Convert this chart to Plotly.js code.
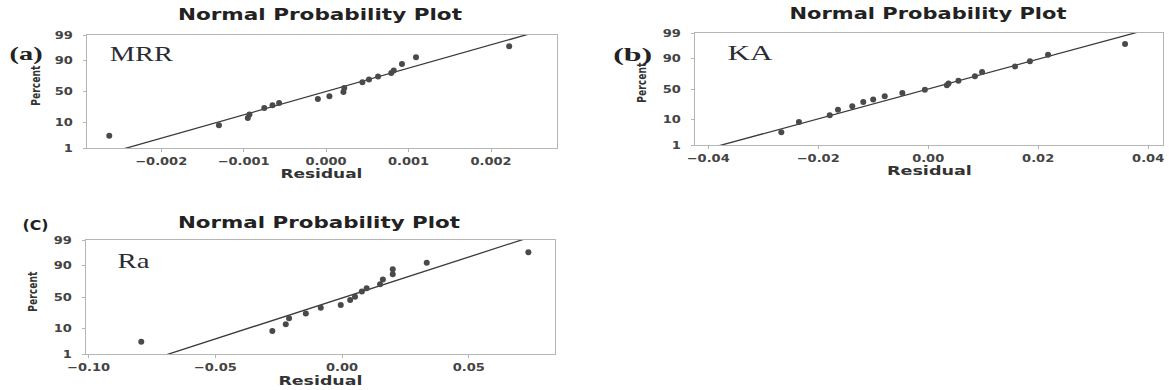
<!DOCTYPE html>
<html><head><meta charset="utf-8">
<script src="https://cdn.plot.ly/plotly-3.0.1.min.js"></script>
<style>html,body{margin:0;padding:0;background:#fff}#chart{width:1169px;height:390px}</style>
</head><body><div id="chart"></div>
<script>
// ---- data ----
const mrrResidual = [-0.00263, -0.0013, -0.00095, -0.00093, -0.00075, -0.00065, -0.00057, -0.0001, 0.00004, 0.00021, 0.00022, 0.00044, 0.00052, 0.00063, 0.00079, 0.00082, 0.00092, 0.00109, 0.00222];
const mrrPercent  = [3.4, 8.2, 13.8, 17.1, 24.8, 28.4, 31.9, 37.8, 42.1, 49.2, 55.6, 64.8, 68.8, 73.2, 77.6, 80.5, 87.1, 92.1, 96.9];
const kaResidual  = [-0.0267, -0.0235, -0.0179, -0.0164, -0.0138, -0.0118, -0.0100, -0.0079, -0.0047, -0.0006, 0.0034, 0.0037, 0.0055, 0.0085, 0.0098, 0.0158, 0.0185, 0.0218, 0.0358];
const kaPercent   = [3.6, 8.5, 13.8, 19.5, 23.6, 29.5, 33.0, 38.2, 43.2, 48.8, 56.0, 59.0, 63.3, 70.2, 76.1, 82.6, 87.5, 92.2, 96.9];
const raResidual  = [-0.0792, -0.0275, -0.0222, -0.0209, -0.0143, -0.0084, -0.0005, 0.0032, 0.0051, 0.0078, 0.0097, 0.0150, 0.0161, 0.0200, 0.0200, 0.0334, 0.0735];
const raPercent   = [3.4, 8.2, 13.4, 19.2, 25.1, 33.0, 37.1, 45.2, 50.4, 58.7, 64.1, 69.8, 76.4, 82.4, 87.1, 91.9, 96.6];
// fitted normal line (mean, standard deviation) per panel
const fitMean = [0.0, 0.0, 0.0012];
const fitSd   = [0.00104, 0.01614, 0.0299];
const percentTicks = [1, 10, 50, 90, 99];
const panelNames = ['MRR', 'KA', 'Ra'];
const panelTags = ['(a)', '(b)', '(C)'];
const plotTitle = 'Normal Probability Plot';
const xTitle = 'Residual';
const yTitle = 'Percent';
const xRanges = [[-0.0029, 0.0028], [-0.0424, 0.0427], [-0.101, 0.084]];
const xDticks = [0.001, 0.02, 0.05];
const xFormats = ['.3f', '.2f', '.2f'];

// inverse standard normal CDF (Acklam)
function probit(p) {
  const a = [-3.969683028665376e+01, 2.209460984245205e+02, -2.759285104469687e+02, 1.383577518672690e+02, -3.066479806614716e+01, 2.506628277459239e+00];
  const b = [-5.447609879822406e+01, 1.615858368580409e+02, -1.556989798598866e+02, 6.680131188771972e+01, -1.328068155288572e+01];
  const c = [-7.784894002430293e-03, -3.223964580411365e-01, -2.400758277161838e+00, -2.549732539343734e+00, 4.374664141464968e+00, 2.938163982698783e+00];
  const d = [7.784695709041462e-03, 3.224671290700398e-01, 2.445134137142996e+00, 3.754408661907416e+00];
  const pl = 0.02425;
  let q, r;
  if (p < pl) { q = Math.sqrt(-2 * Math.log(p)); return (((((c[0]*q+c[1])*q+c[2])*q+c[3])*q+c[4])*q+c[5]) / ((((d[0]*q+d[1])*q+d[2])*q+d[3])*q+1); }
  if (p > 1 - pl) { q = Math.sqrt(-2 * Math.log(1 - p)); return -(((((c[0]*q+c[1])*q+c[2])*q+c[3])*q+c[4])*q+c[5]) / ((((d[0]*q+d[1])*q+d[2])*q+d[3])*q+1); }
  q = p - 0.5; r = q * q;
  return (((((a[0]*r+a[1])*r+a[2])*r+a[3])*r+a[4])*r+a[5])*q / (((((b[0]*r+b[1])*r+b[2])*r+b[3])*r+b[4])*r+1);
}
const z = pct => probit(pct / 100);

const W = 1169, H = 390;
const px = x => x / W, py = y => 1 - y / H;

// layout geometry (pixels)
const boxes = [
  {l: 87, r: 557, t: 35, b: 148},
  {l: 695, r: 1163, t: 33, b: 145},
  {l: 86, r: 555, t: 240, b: 354}
];
// text placements: [centerX, centerY, targetWidth]
const titlePos   = [[320, 15, 284], [928, 14, 277], [319, 223, 282]];
const xTitlePos  = [[321, 173, 82], [929, 170, 85], [320, 380, 84]];
const yTitlePos  = [[35, 86, 40], [641, 83, 40], [32, 292, 40]];
const namePos    = [[141, 54, 63], [750, 53, 45], [134, 261, 32]];
const tagPos     = [[26, 54, 33], [632, 55, 39], [35, 225, 26]];

const residuals = [mrrResidual, kaResidual, raResidual];
const percents = [mrrPercent, kaPercent, raPercent];

const traces = [];
const layout = {
  width: W, height: H, margin: {l: 0, r: 0, t: 0, b: 0},
  paper_bgcolor: '#fff', plot_bgcolor: '#fff', showlegend: false,
  font: {family: 'DejaVu Sans, sans-serif', color: '#333'},
  annotations: []
};
const stretch = []; // target width per annotation index

const tickFont = {family: 'DejaVu Sans, sans-serif', size: 10, color: '#444', weight: 'bold'};
const zLo = z(percentTicks[0]), zHi = z(percentTicks[percentTicks.length - 1]);

function addText(text, pos, font, extra) {
  layout.annotations.push(Object.assign({text: text, xref: 'paper', yref: 'paper',
    x: px(pos[0]), y: py(pos[1]), xanchor: 'center', yanchor: 'middle', showarrow: false, font: font}, extra || {}));
  stretch.push(pos[2]);
}

for (let i = 0; i < 3; i++) {
  const sfx = i === 0 ? '' : String(i + 1);
  const bx = boxes[i];
  traces.push({
    x: [fitMean[i] + fitSd[i] * -3.5, fitMean[i] + fitSd[i] * 3.5], y: [-3.5, 3.5],
    xaxis: 'x' + sfx, yaxis: 'y' + sfx, mode: 'lines', type: 'scatter',
    line: {color: '#3a3a3a', width: 1.3}, hoverinfo: 'skip'
  });
  traces.push({
    x: residuals[i], y: percents[i].map(z),
    xaxis: 'x' + sfx, yaxis: 'y' + sfx, mode: 'markers', type: 'scatter',
    marker: {color: '#4a4a4a', size: 6, line: {width: 0}}, cliponaxis: false
  });
  layout['xaxis' + sfx] = {
    domain: [px(bx.l), px(bx.r)], anchor: 'y' + sfx, range: xRanges[i],
    dtick: xDticks[i], tick0: 0, tickformat: xFormats[i],
    showgrid: false, zeroline: false, showline: true, mirror: true,
    linecolor: '#b5b5b5', linewidth: 1.2, ticks: 'outside', ticklen: 3, tickcolor: '#b5b5b5',
    tickfont: tickFont, ticklabelstandoff: 1
  };
  layout['yaxis' + sfx] = {
    domain: [py(bx.b), py(bx.t)], anchor: 'x' + sfx, range: [zLo, zHi],
    tickvals: percentTicks.map(z), ticktext: percentTicks.map(String),
    showgrid: false, zeroline: false, showline: true, mirror: true,
    linecolor: '#b5b5b5', linewidth: 1.2, ticks: 'outside', ticklen: 3, tickcolor: '#b5b5b5',
    tickfont: tickFont, ticklabelstandoff: 8
  };
  addText(plotTitle, titlePos[i], {family: 'DejaVu Sans, sans-serif', size: 15, weight: 'bold', color: '#222'});
  addText(xTitle, xTitlePos[i], {family: 'DejaVu Sans, sans-serif', size: 13, weight: 'bold', color: '#333'});
  addText(yTitle, yTitlePos[i], {family: 'DejaVu Sans, sans-serif', size: 13, weight: 'bold', color: '#333'}, {textangle: -90});
  addText(panelNames[i], namePos[i], {family: 'Liberation Serif, serif', size: 21, color: '#2b2b33'});
  addText(panelTags[i], tagPos[i], i === 2
    ? {family: 'DejaVu Sans, sans-serif', size: 14, weight: 'bold', color: '#222'}
    : {family: 'Liberation Serif, serif', size: 19, weight: 'bold', color: '#222'});
}

// resize a text element along its own direction, keeping its centre (or right end)
function fitText(t, newLen, keep) {
  const b0 = t.getBBox();
  t.setAttribute('textLength', newLen.toFixed(1));
  t.setAttribute('lengthAdjust', 'spacingAndGlyphs');
  const b1 = t.getBBox();
  const dx = keep === 'end' ? (b0.x + b0.width) - (b1.x + b1.width)
                            : (b0.x + b0.width / 2) - (b1.x + b1.width / 2);
  if (Math.abs(dx) > 0.1) {
    const tr = t.getAttribute('transform') || '';
    t.setAttribute('transform', (tr + ' translate(' + dx.toFixed(2) + ',0)').trim());
  }
}

Plotly.newPlot('chart', traces, layout, {staticPlot: true, displayModeBar: false}).then(function (gd) {
  // widen/condense texts horizontally to match the stretched look of the original figure
  gd.querySelectorAll('.annotation').forEach(function (g) {
    const idx = +g.getAttribute('data-index');
    const t = g.querySelector('text.annotation-text');
    if (t && stretch[idx]) fitText(t, stretch[idx], 'center');
  });
  gd.querySelectorAll('.xtick text, .x2tick text, .x3tick text').forEach(function (t) {
    fitText(t, t.getComputedTextLength() * 1.3, 'center');
  });
  gd.querySelectorAll('.ytick text, .y2tick text, .y3tick text').forEach(function (t) {
    fitText(t, t.getComputedTextLength() * 1.3, 'end');
  });
});
</script>
</body></html>
